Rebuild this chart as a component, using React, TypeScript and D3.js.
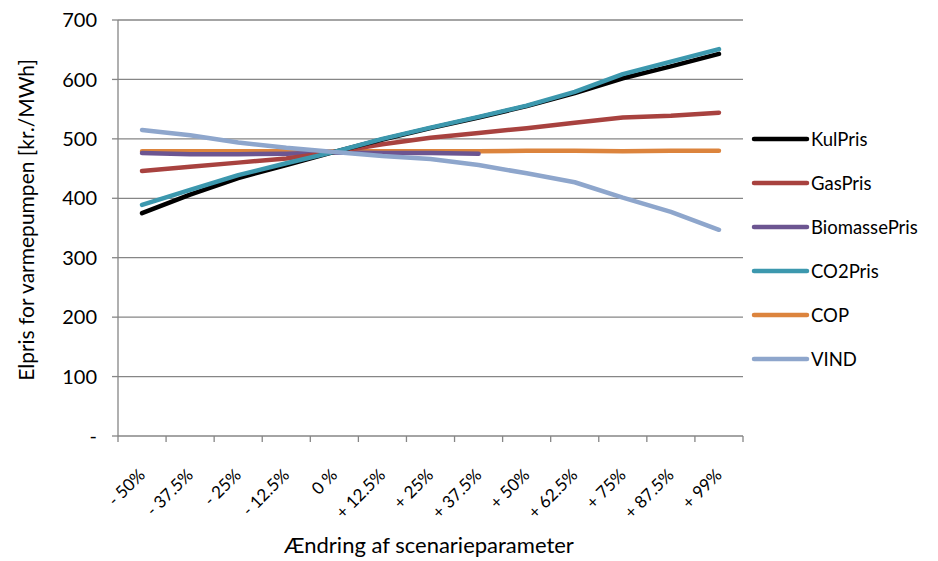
import React from "react";
import * as d3 from "d3";

const categories = ["- 50%", "- 37.5%", "- 25%", "- 12.5%", "0 %", "+ 12.5%", "+ 25%", "+ 37.5%", "+ 50%", "+ 62.5%", "+ 75%", "+ 87.5%", "+ 99%"];
const kulPris = [375, 406, 434, 456, 478, 499, 518, 536, 555, 577, 602, 622, 643];
const gasPris = [446, 453, 460, 467, 478, 491, 502, 510, 518, 527, 536, 539, 544];
const biomassePris = [476, 474, 474, 475, 477, 476, 476, 475];
const co2Pris = [389, 414, 439, 459, 478, 500, 519, 537, 556, 579, 609, 630, 651];
const cop = [479, 479, 479, 479, 479, 479, 479, 479, 480, 480, 479, 480, 480];
const vind = [515, 506, 494, 485, 478, 471, 466, 456, 442, 427, 401, 377, 347];
const yTicks = [0, 100, 200, 300, 400, 500, 600, 700];
const yTickLabels = ["-", "100", "200", "300", "400", "500", "600", "700"];

const seriesNames = ["KulPris", "GasPris", "BiomassePris", "CO2Pris", "COP", "VIND"];
const seriesColors = ["#000000", "#A8423F", "#6C5591", "#3C98AE", "#DC843D", "#8EA6CC"];
const seriesData = [kulPris, gasPris, biomassePris, co2Pris, cop, vind];
// draw order (back to front)
const drawOrder = [4, 2, 1, 0, 3, 5];

const W = 938;
const H = 561;
const left = 118;
const right = 743;
const top = 20;
const bottom = 436;
const font = "Lato, 'Open Sans', sans-serif";
const axisColor = "#868686";

export default function App() {
  const x = d3.scaleBand<string>().domain(categories).range([left, right]).padding(0);
  const bw = x.bandwidth();
  const cx = (i: number) => (x(categories[i]) as number) + bw / 2;
  const y = d3.scaleLinear().domain([0, 700]).range([bottom, top]);
  const line = d3
    .line<number>()
    .x((_, i) => cx(i))
    .y((d) => y(d));

  const legendY0 = 139;
  const legendStep = 44;

  return (
    <svg
      width={W}
      height={H}
      style={{ position: "absolute", left: 0, top: 0, background: "#fff" }}
      fontFamily={font}
    >
      <rect width={W} height={H} fill="#fff" />
      {/* gridlines */}
      {yTicks.map((t) =>
        t === 0 ? null : (
          <line key={"g" + t} x1={left} x2={right} y1={y(t)} y2={y(t)} stroke={axisColor} strokeWidth={1.3} />
        )
      )}
      {/* y axis */}
      <line x1={left} x2={left} y1={top} y2={bottom} stroke={axisColor} strokeWidth={1.3} />
      {yTicks.map((t, i) => (
        <g key={"yt" + t}>
          <line x1={left - 6} x2={left} y1={y(t)} y2={y(t)} stroke={axisColor} strokeWidth={1.3} />
          <text x={97} y={y(t)} dy="0.36em" textAnchor="end" fontSize={20} fill="#000">
            {yTickLabels[i]}
          </text>
        </g>
      ))}
      {/* x axis */}
      <line x1={left} x2={right} y1={bottom} y2={bottom} stroke={axisColor} strokeWidth={1.3} />
      {categories.concat([""]).map((c, i) => {
        const xx = left + i * bw;
        return <line key={"xt" + i} x1={xx} x2={xx} y1={bottom} y2={bottom + 6} stroke={axisColor} strokeWidth={1.3} />;
      })}
      {categories.map((c, i) => (
        <text
          key={"xl" + i}
          transform={`translate(${cx(i) + 4},${476}) rotate(-45)`}
          textAnchor="end"
          fontSize={17}
          fill="#000"
        >
          {c}
        </text>
      ))}
      {/* series */}
      {drawOrder.map((si) => (
        <path
          key={"s" + si}
          d={line(seriesData[si]) || ""}
          fill="none"
          stroke={seriesColors[si]}
          strokeWidth={4.5}
          strokeLinecap="round"
          strokeLinejoin="round"
        />
      ))}
      {/* legend */}
      {seriesNames.map((n, i) => (
        <g key={"l" + i}>
          <line
            x1={754}
            x2={807}
            y1={legendY0 + i * legendStep}
            y2={legendY0 + i * legendStep}
            stroke={seriesColors[i]}
            strokeWidth={4.5}
            strokeLinecap="round"
          />
          <text x={811} y={legendY0 + i * legendStep} dy="0.36em" fontSize={18.5} fill="#000">
            {n}
          </text>
        </g>
      ))}
      {/* axis titles */}
      <text
        transform={`translate(${34},${220}) rotate(-90)`}
        textAnchor="middle"
        fontSize={21}
        fill="#000"
      >
        Elpris for varmepumpen [kr./MWh]
      </text>
      <text x={429} y={553} textAnchor="middle" fontSize={22} fill="#000">
        Ændring af scenarieparameter
      </text>
    </svg>
  );
}
